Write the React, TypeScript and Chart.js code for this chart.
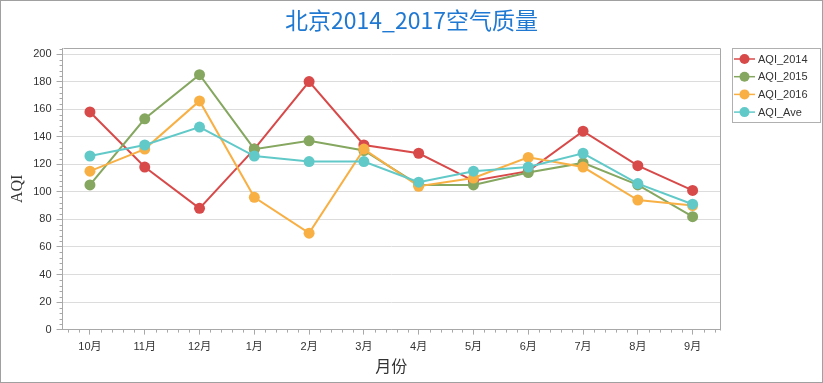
import React, { useEffect, useRef } from "react";
import { Chart, registerables } from "chart.js";

Chart.register(...registerables);

const chartTitle = "北京2014_2017空气质量";
const months = ["10月", "11月", "12月", "1月", "2月", "3月", "4月", "5月", "6月", "7月", "8月", "9月"];
const aqi2014 = [158, 118, 88, 131, 180, 134, 128, 108, 115, 144, 119, 101];
const aqi2015 = [105, 153, 185, 131, 137, 130, 105, 105, 114, 121, 105, 82];
const aqi2016 = [115, 131, 166, 96, 70, 131, 104, 110, 125, 118, 94, 90];
const aqiAve = [126, 134, 147, 126, 122, 122, 107, 115, 118, 128, 106, 91];
const seriesNames = ["AQI_2014", "AQI_2015", "AQI_2016", "AQI_Ave"];
const seriesColors = ["#D84A4A", "#85A760", "#F8B045", "#62C9C9"];

const AXIS = "#a8a8a8";
const GRID = "#dcdcdc";

const decorPlugin = {
  id: "decor",
  beforeDraw(chart: any) {
    const { ctx, width, height } = chart;
    ctx.save();
    ctx.fillStyle = "#ffffff";
    ctx.fillRect(0, 0, width, height);
    ctx.restore();
  },
  afterDraw(chart: any) {
    const { ctx, chartArea, width, height } = chart;
    const { left, right, top, bottom } = chartArea;
    const xs = chart.scales.x;
    const ys = chart.scales.y;
    ctx.save();
    // outer border
    ctx.strokeStyle = "#a0a0a0";
    ctx.lineWidth = 1;
    ctx.strokeRect(0.5, 0.5, width - 1, height - 1);
    // title
    ctx.fillStyle = "#1F78D1";
    ctx.font = "23px 'Noto Sans CJK SC'";
    ctx.textAlign = "center";
    ctx.textBaseline = "middle";
    ctx.fillText(chartTitle, width / 2, 20);
    // plot box top/right
    ctx.strokeStyle = AXIS;
    ctx.beginPath();
    ctx.moveTo(Math.round(left) + 0.5, Math.round(top) + 0.5);
    ctx.lineTo(Math.round(right) + 0.5, Math.round(top) + 0.5);
    ctx.lineTo(Math.round(right) + 0.5, Math.round(bottom) + 0.5);
    ctx.stroke();
    // minor ticks y
    ctx.beginPath();
    for (let v = 0; v <= ys.max; v += 4) {
      if (v % 20 === 0) continue;
      const y = Math.round(ys.getPixelForValue(v)) + 0.5;
      ctx.moveTo(left - 3, y);
      ctx.lineTo(left, y);
    }
    // minor ticks x
    for (let i = 0; i < months.length; i++) {
      for (const f of [-0.4, -0.2, 0.2, 0.4]) {
        const x = Math.round(xs.getPixelForValue(i + f)) + 0.5;
        ctx.moveTo(x, bottom);
        ctx.lineTo(x, bottom + 3);
      }
    }
    ctx.stroke();

    // legend
    const lx = right + 12;
    const ly = top;
    ctx.strokeStyle = "#b0b0b0";
    ctx.strokeRect(Math.round(lx) + 0.5, Math.round(ly) + 0.5, 88, 74);
    ctx.font = "11px 'Liberation Sans', 'Noto Sans CJK SC'";
    ctx.textBaseline = "middle";
    ctx.textAlign = "left";
    seriesNames.forEach((name, i) => {
      const cy = ly + 11 + i * 17.7;
      ctx.strokeStyle = seriesColors[i];
      ctx.lineWidth = 1.5;
      ctx.beginPath();
      ctx.moveTo(lx + 2, cy);
      ctx.lineTo(lx + 23, cy);
      ctx.stroke();
      ctx.fillStyle = seriesColors[i];
      ctx.beginPath();
      ctx.arc(lx + 12.5, cy, 5, 0, Math.PI * 2);
      ctx.fill();
      ctx.fillStyle = "#333333";
      ctx.fillText(name, lx + 26, cy + 0.5);
    });
    ctx.restore();
  },
};

export default function App() {
  const ref = useRef<HTMLCanvasElement | null>(null);
  useEffect(() => {
    if (!ref.current) return;
    const allData = [aqi2014, aqi2015, aqi2016, aqiAve];
    const orders = [4, 3, 2, 1];
    const chart = new Chart(ref.current, {
      type: "line",
      data: {
        labels: months,
        datasets: allData.map((d, i) => ({
          label: seriesNames[i],
          data: d,
          borderColor: seriesColors[i],
          backgroundColor: seriesColors[i],
          pointBackgroundColor: seriesColors[i],
          pointBorderColor: seriesColors[i],
          borderWidth: 2,
          pointRadius: 5.5,
          pointBorderWidth: 0,
          tension: 0,
          order: orders[i],
        })),
      },
      options: {
        animation: false,
        responsive: false,
        maintainAspectRatio: false,
        layout: { padding: { left: 0, right: 103, top: 48, bottom: 0 } },
        plugins: {
          legend: { display: false },
          tooltip: { enabled: false },
          title: { display: false },
        },
        scales: {
          x: {
            type: "category",
            offset: true,
            grid: {
              display: true,
              drawOnChartArea: false,
              drawTicks: true,
              tickLength: 5,
              tickColor: AXIS,
              offset: false,
            },
            border: { color: AXIS },
            ticks: {
              color: "#333333",
              padding: 6,
              font: { family: "'Liberation Sans', 'Noto Sans CJK SC'", size: 11 },
              maxRotation: 0,
              autoSkip: false,
            },
            title: {
              display: true,
              text: "月份",
              color: "#333333",
              font: { family: "'Noto Sans CJK SC'", size: 16 },
              padding: { top: -3, bottom: 7 },
            },
          },
          y: {
            min: 0,
            max: 204.4,
            grid: { color: GRID, tickColor: AXIS, tickLength: 6 },
            border: { color: AXIS },
            ticks: {
              stepSize: 20,
              includeBounds: false,
              color: "#333333",
              padding: 5,
              font: { family: "'Liberation Sans', 'Noto Sans CJK SC'", size: 11 },
            },
            title: {
              display: true,
              text: "AQI",
              color: "#333333",
              font: { family: "'Liberation Serif', 'Noto Sans CJK SC'", size: 16 },
              padding: { top: 8, bottom: 1 },
            },
          },
        },
      },
      plugins: [decorPlugin],
    } as any);
    return () => chart.destroy();
  }, []);
  return (
    <div style={{ position: "fixed", left: 0, top: 0, width: 823, height: 383, background: "#fff" }}>
      <canvas ref={ref} width={823} height={383} style={{ width: 823, height: 383, display: "block" }} />
    </div>
  );
}
